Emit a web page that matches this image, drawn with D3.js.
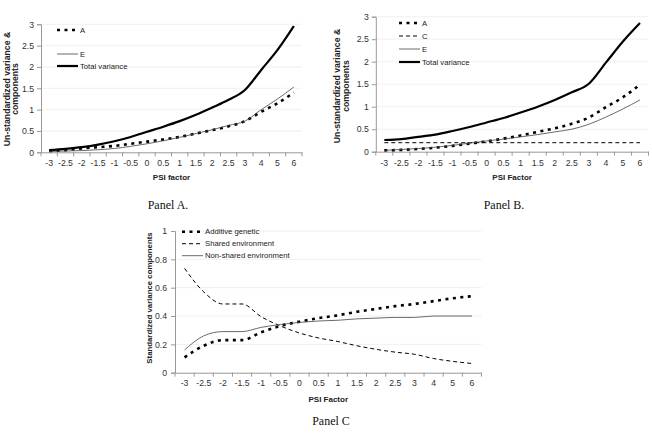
<!DOCTYPE html>
<html><head><meta charset="utf-8">
<script src="https://cdn.jsdelivr.net/npm/d3@7"></script>
<style>
body{margin:0;background:#fff;}
svg{display:block;font-family:"Liberation Sans",Arial,sans-serif;}
</style></head>
<body><svg id="c" width="652" height="435"></svg>
<script>
const categories = ["-3","-2.5","-2","-1.5","-1","-0.5","0","0.5","1","1.5","2","2.5","3","4","5","6"];

const panelA_A     = [0.03,0.05,0.09,0.12,0.15,0.20,0.25,0.30,0.36,0.44,0.52,0.61,0.73,0.95,1.15,1.40];
const panelA_E     = [0.02,0.03,0.04,0.06,0.09,0.14,0.20,0.27,0.35,0.44,0.53,0.63,0.73,1.00,1.25,1.53];
const panelA_total = [0.05,0.08,0.12,0.18,0.26,0.36,0.48,0.60,0.73,0.88,1.05,1.23,1.46,1.93,2.40,2.96];

const panelB_A     = [0.03,0.04,0.06,0.09,0.13,0.18,0.23,0.29,0.36,0.44,0.52,0.62,0.76,0.99,1.21,1.49];
const panelB_C     = [0.20,0.20,0.20,0.20,0.20,0.20,0.20,0.20,0.20,0.20,0.20,0.20,0.20,0.20,0.20,0.20];
const panelB_E     = [0.03,0.05,0.07,0.10,0.14,0.19,0.24,0.28,0.33,0.38,0.44,0.50,0.61,0.77,0.95,1.15];
const panelB_total = [0.26,0.28,0.33,0.38,0.46,0.55,0.65,0.75,0.87,1.00,1.15,1.32,1.51,1.98,2.45,2.86];

const panelC_additive  = [0.108,0.19,0.23,0.23,0.285,0.33,0.36,0.385,0.405,0.43,0.45,0.47,0.485,0.505,0.525,0.54];
const panelC_shared    = [0.736,0.57,0.485,0.485,0.395,0.33,0.28,0.245,0.22,0.19,0.165,0.145,0.13,0.10,0.08,0.065];
const panelC_nonshared = [0.16,0.26,0.29,0.29,0.32,0.34,0.355,0.365,0.37,0.38,0.385,0.39,0.39,0.40,0.40,0.40];

const yTicksAB = [0,0.5,1,1.5,2,2.5,3];
const yTicksC  = [0,0.2,0.4,0.6,0.8,1];

const styles = {
  A:     {stroke:"#000", width:2.6, dash:"3,4.5"},
  C:     {stroke:"#000", width:1, dash:"4,3"},
  E:     {stroke:"#444", width:0.8, dash:null},
  T:     {stroke:"#000", width:2.2, dash:null}
};

const svg = d3.select("#c");

function panel(cfg){
  const g = svg.append("g");
  const x = d3.scaleBand().domain(categories).range([cfg.x0, cfg.x1]);
  const y = d3.scaleLinear().domain(cfg.ydom).range([cfg.yb, cfg.yt]);
  g.selectAll("line.grid").data(cfg.yticks.slice(1)).join("line")
    .attr("x1", cfg.x0).attr("x2", cfg.x1)
    .attr("y1", d=>y(d)).attr("y2", d=>y(d))
    .attr("stroke", "#ececec").attr("stroke-width", 0.8);
  const ya = g.append("g").attr("transform", `translate(${cfg.x0},0)`)
    .call(d3.axisLeft(y).tickValues(cfg.yticks).tickSize(4).tickPadding(cfg.yPad).tickFormat(d3.format("")));
  ya.select(".domain").attr("stroke","#999");
  ya.selectAll(".tick line").attr("stroke","#999");
  ya.selectAll("text").attr("font-size", 8.7).attr("fill","#333").attr("font-family","Liberation Sans, Arial, sans-serif");
  const xa = g.append("g").attr("transform", `translate(0,${cfg.yb})`)
    .call(d3.axisBottom(x).tickSize(0).tickPadding(cfg.xPad));
  xa.select(".domain").attr("stroke","#999");
  xa.selectAll("text").attr("font-size", 8.7).attr("fill","#333").attr("font-family","Liberation Sans, Arial, sans-serif");
  const bounds = categories.map(c=>x(c)).concat([cfg.x1]);
  g.selectAll("line.xt").data(bounds).join("line")
    .attr("x1", d=>d).attr("x2", d=>d).attr("y1", cfg.yb).attr("y2", cfg.yb+4)
    .attr("stroke","#999");
  const line = d3.line().x((d,i)=>x(categories[i]) + x.bandwidth()/2).y(d=>y(d)).curve(d3.curveMonotoneX);
  cfg.series.forEach(s=>{
    const st = styles[s.style];
    g.append("path").datum(s.values).attr("d", line)
      .attr("fill","none").attr("stroke", st.stroke).attr("stroke-width", st.width)
      .attr("stroke-dasharray", st.dash);
  });
  cfg.series.forEach(s=>{
    const st = styles[s.style];
    const ly = cfg.legY + s.slot*cfg.legDy;
    g.append("line").attr("x1", cfg.legX).attr("x2", cfg.legX+21).attr("y1", ly).attr("y2", ly)
      .attr("stroke", st.stroke).attr("stroke-width", st.width).attr("stroke-dasharray", st.dash);
    g.append("text").attr("x", cfg.legX+23).attr("y", ly).attr("dy","0.35em")
      .attr("font-size", 7.7).attr("fill","#222").text(s.name);
  });
  g.append("text").attr("x", (cfg.x0+cfg.x1)/2).attr("y", cfg.xTitleY)
    .attr("text-anchor","middle").attr("font-size", 8).attr("font-weight","bold").attr("fill","#222").text(cfg.xTitle);
  cfg.yTitle.forEach((t,i)=>{
    g.append("text").attr("transform", `translate(${cfg.yTitleX[i]},${cfg.yTitleY}) rotate(-90)`)
      .attr("text-anchor","middle").attr("font-size", cfg.yTitleSize).attr("font-weight","bold").attr("fill","#222").text(t);
  });
  g.append("text").attr("x", cfg.capX).attr("y", cfg.capY).attr("text-anchor","middle")
    .attr("font-family","Liberation Serif, Times New Roman, serif").attr("font-size", 12).attr("fill","#111").text(cfg.caption);
}

panel({x0:41, x1:302, yt:24.3, yb:152.3, ydom:[0,3], yticks:yTicksAB, yPad:3, xPad:8,
  series:[{name:"A", values:panelA_A, style:"A", slot:0},
          {name:"E", values:panelA_E, style:"E", slot:2},
          {name:"Total variance", values:panelA_total, style:"T", slot:3}],
  legX:57, legY:30, legDy:12,
  xTitle:"PSI factor", xTitleY:180, yTitle:["Un-standardized variance &","components"], yTitleX:[9.5,17.5], yTitleY:89, yTitleSize:8.7,
  caption:"Panel A.", capX:168, capY:209});

panel({x0:375.8, x1:648.5, yt:16.7, yb:151.7, ydom:[0,3], yticks:yTicksAB, yPad:3, xPad:8,
  series:[{name:"A", values:panelB_A, style:"A", slot:0},
          {name:"C", values:panelB_C, style:"C", slot:1},
          {name:"E", values:panelB_E, style:"E", slot:2},
          {name:"Total variance", values:panelB_total, style:"T", slot:3}],
  legX:399, legY:23, legDy:13,
  xTitle:"PSI Factor", xTitleY:180, yTitle:["Un-standardized variance &","components"], yTitleX:[340,348.5], yTitleY:86, yTitleSize:8.7,
  caption:"Panel B.", capX:504, capY:209});

panel({x0:175, x1:481.5, yt:231, yb:372.7, ydom:[0,1], yticks:yTicksC, yPad:4, xPad:7,
  series:[{name:"Additive genetic", values:panelC_additive, style:"A", slot:0},
          {name:"Shared environment", values:panelC_shared, style:"C", slot:1},
          {name:"Non-shared environment", values:panelC_nonshared, style:"E", slot:2}],
  legX:182, legY:231.7, legDy:12,
  xTitle:"PSI Factor", xTitleY:402, yTitle:["Standardized variance components"], yTitleX:[151.5], yTitleY:298, yTitleSize:7.8,
  caption:"Panel C", capX:331, capY:425});
</script></body></html>
